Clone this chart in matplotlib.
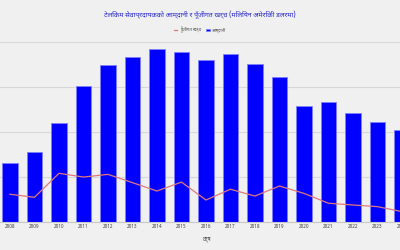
import matplotlib
matplotlib.use('Agg')
import numpy as np
from matplotlib import pyplot as plt

plt.rcParams['font.family'] = ['Noto Sans Devanagari', 'FreeSans', 'DejaVu Sans']

years = ['2008', '2009', '2010', '2011', '2012', '2013', '2014', '2015', '2016',
         '2017', '2018', '2019', '2020', '2021', '2022', '2023', '2024']
# million USD
revenue = [328, 386, 551, 756, 873, 920, 961, 944, 901,
           935, 877, 805, 643, 669, 604, 557, 511]
capex = [152, 135, 269, 248, 263, 217, 170, 220, 120,
         180, 142, 198, 157, 102, 92, 83, 55]

title = 'टेलिकम सेवाप्रदायकको आम्दानी र पूँजीगत खर्च (मिलियन अमेरिकी डलरमा)'

fig = plt.figure(figsize=(4, 2.5), dpi=100, facecolor='#f0f0f0')
ax = fig.add_axes([-0.0056, 0.114, 1.041, 0.7526], facecolor='#f0f0f0')

x = np.arange(len(years))
ax.bar(x, revenue, width=0.64, color='#0000ff', edgecolor='#8080ff',
       linewidth=0.6, label='आम्दानी', zorder=2)
ax.plot(x, capex, color='#e07878', linewidth=0.9, label='पूँजीगत खर्च', zorder=3)

ax.set_xlim(-0.5, 16.5)
ax.set_ylim(0, 1050)
ax.set_yticks([250, 500, 750, 1000])
ax.set_yticklabels([])
ax.tick_params(axis='y', length=0)
ax.grid(axis='y', color='#d8d8d8', linewidth=0.8, zorder=0)
ax.set_axisbelow(True)

ax.set_xticks(x)
ax.set_xticklabels(years, fontsize=3.5, color='#444444')
ax.tick_params(axis='x', length=0, pad=2)
ax.set_xlabel('वर्ष', fontsize=4, color='#444444', labelpad=5)

for side in ['top', 'right', 'left']:
    ax.spines[side].set_visible(False)
ax.spines['bottom'].set_color('#c8c8c8')

fig.text(0.5, 0.94, title, ha='center', va='center', fontsize=5.0,
         fontweight='bold', color='#2626c8')
fig.legend(loc='center', bbox_to_anchor=(0.5, 0.88), ncol=2, frameon=False,
           fontsize=3.2, handlelength=0.8, handleheight=0.6, columnspacing=1.2,
           handletextpad=0.5, labelcolor='#555555')

fig.savefig('out.png', dpi=100, facecolor=fig.get_facecolor())
